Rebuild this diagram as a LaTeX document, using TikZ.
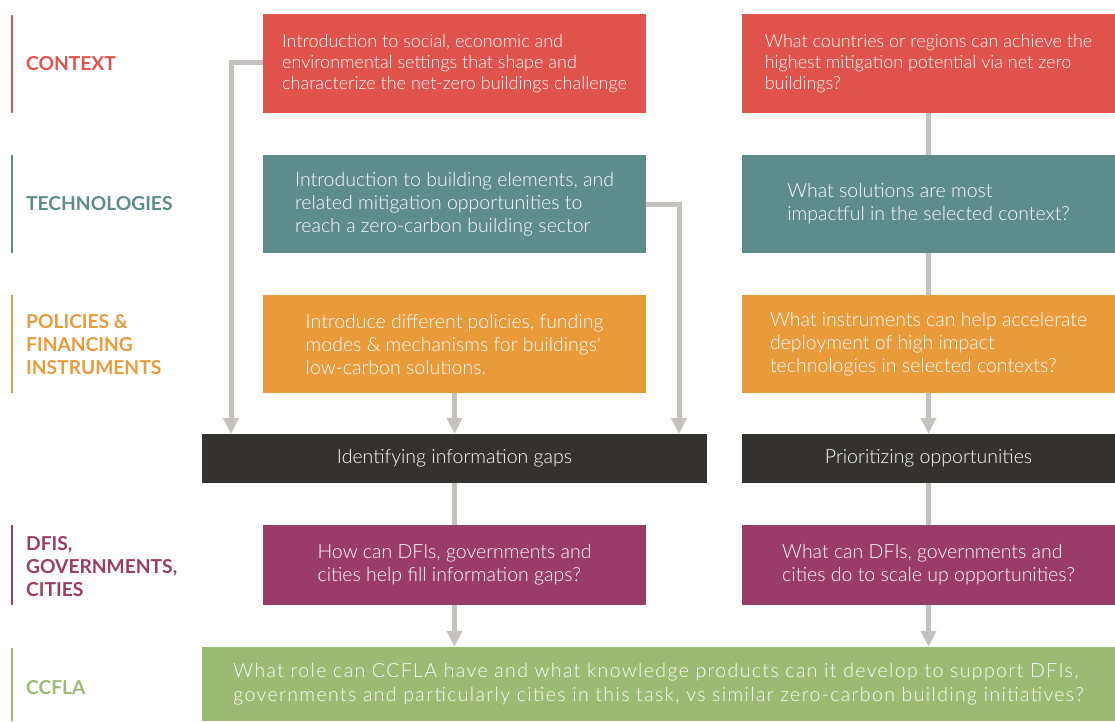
\documentclass[tikz,border=0pt]{standalone}
\usepackage{fontspec}
\setmainfont{Lato}
\newfontfamily\lightf{Lato Light}
\newfontfamily\lightwide[LetterSpace=7]{Lato Light}
\usetikzlibrary{arrows.meta}
\definecolor{cred}{HTML}{E0524C}
\definecolor{cteal}{HTML}{5E8C8A}
\definecolor{corange}{HTML}{E99A3B}
\definecolor{cdark}{HTML}{333230}
\definecolor{cpurple}{HTML}{993D66}
\definecolor{cgreen}{HTML}{9BBA72}
\definecolor{cgray}{HTML}{C4C1C0}
\begin{document}
\begin{tikzpicture}[x=1pt,y=-1pt,
  box/.style={inner sep=0pt, text=white, align=left,
    font=\lightf\fontsize{19.5}{23}\selectfont},
  lbox/.style={box, minimum width=383pt},
  rbox/.style={box, minimum width=373pt},
  lab/.style={anchor=west, align=left, inner sep=0pt,
    font=\bfseries\fontsize{19.2}{23}\selectfont},
  bar/.style={line width=2pt},
  conn/.style={draw=cgray, line width=5pt},
  arr/.style={conn, -{Triangle[width=15pt,length=16pt]}},
]
\useasboundingbox (0,0) rectangle (1115,721);
% side labels
\draw[bar, cred] (12,15) -- (12,113);
\node[lab, text=cred] (lctx) at (26,64) {CONTEXT};
\draw[bar, cteal] (12,155) -- (12,253);
\node[lab, text=cteal] (ltec) at (26,204) {TECHNOLOGIES};
\draw[bar, corange] (12,295) -- (12,393);
\node[lab, text=corange] (lpol) at (26,345) {POLICIES \&\\FINANCING\\INSTRUMENTS};
\draw[bar, cpurple] (12,525) -- (12,605);
\node[lab, text=cpurple] (ldfi) at (26,567) {DFIS,\\GOVERNMENTS,\\CITIES};
\draw[bar, cgreen] (12,648) -- (12,721);
\node[lab, text=cgreen] (lccf) at (26,688) {CCFLA};
% boxes
\node[lbox, fill=cred, minimum height=99pt, font=\lightf\fontsize{18}{21}\selectfont] (cl) at (454.5,63.5)
  {Introduction to social, economic and\\environmental settings that shape and\\characterize the net-zero buildings challenge};
\node[rbox, fill=cred, minimum height=99pt, font=\lightf\fontsize{18}{21}\selectfont] (cr) at (928.5,63.5)
  {What countries or regions can achieve the\\highest mitigation potential via net zero\\buildings?};
\node[lbox, fill=cteal, minimum height=98pt] (tl) at (454.5,204)
  {Introduction to building elements, and\\related mitigation opportunities to\\reach a zero-carbon building sector};
\node[rbox, fill=cteal, minimum height=98pt] (tr) at (928.5,204)
  {What solutions are most\\impactful in the selected context?};
\node[lbox, fill=corange, minimum height=98pt] (pl) at (454.5,344)
  {Introduce different policies, funding\\modes \& mechanisms for buildings'\\low-carbon solutions.};
\node[rbox, fill=corange, minimum height=98pt] (pr) at (928.5,344)
  {What instruments can help accelerate\\deployment of high impact\\technologies in selected contexts?};
\node[box, fill=cdark, minimum width=505pt, minimum height=49pt] (bl) at (454.5,458.5)
  {Identifying information gaps};
\node[rbox, fill=cdark, minimum height=49pt] (br) at (928.5,458.5)
  {Prioritizing opportunities};
\node[lbox, fill=cpurple, minimum height=80pt] (dl) at (454.5,565)
  {How can DFIs, governments and\\cities help fill information gaps?};
\node[rbox, fill=cpurple, minimum height=80pt] (dr) at (928.5,565)
  {What can DFIs, governments and\\cities do to scale up opportunities?};
\node[box, fill=cgreen, minimum width=913pt, minimum height=74pt,
  font=\lightwide\fontsize{19.5}{24}\selectfont] (cc) at (658.5,684)
  {What role can CCFLA have and what knowledge products can it develop to support DFIs,\\governments and particularly cities in this task, vs similar zero-carbon building initiatives?};
% connectors
\coordinate (lt) at (231,434);
\coordinate (rt) at (679,434);
\draw[arr] ([yshift=1.5pt]cl.west) -| (lt);
\draw[arr] (tl.east) -| (rt);
\draw[arr] (pl.south) -- (bl.north);
\draw[conn] (bl.south) -- (dl.north);
\draw[arr] (dl.south) -- (dl.south |- cc.north);
\draw[conn] (cr.south) -- (tr.north);
\draw[conn] (tr.south) -- (pr.north);
\draw[arr] (pr.south) -- (br.north);
\draw[conn] (br.south) -- (dr.north);
\draw[arr] (dr.south) -- (dr.south |- cc.north);
\end{tikzpicture}
\end{document}
